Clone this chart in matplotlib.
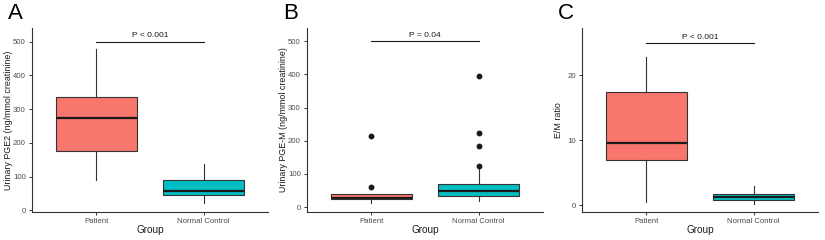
import matplotlib
matplotlib.use("Agg")
import matplotlib.pyplot as plt

plt.rcParams['font.family'] = ['Liberation Sans', 'DejaVu Sans']

groups = ["Patient", "Normal Control"]
colors = ["#F8766D", "#00BFC4"]

# Panel A: Urinary PGE2
a_q1 = [176, 46]
a_med = [272, 57]
a_q3 = [336, 90]
a_lo = [90, 21]
a_hi = [477, 137]
a_fliers = [[], []]

# Panel B: Urinary PGE-M
b_q1 = [24, 34]
b_med = [27, 49]
b_q3 = [39, 68]
b_lo = [11, 18]
b_hi = [39, 121]
b_fliers = [[61, 215], [125, 184, 222, 396]]

# Panel C: E/M ratio
c_q1 = [7.0, 0.9]
c_med = [9.6, 1.35]
c_q3 = [17.4, 1.8]
c_lo = [0.55, 0.3]
c_hi = [22.8, 3.0]
c_fliers = [[], []]

panels = [
    dict(letter="A", ylabel="Urinary PGE2 (ng/mmol creatinine)", q1=a_q1, med=a_med, q3=a_q3,
         lo=a_lo, hi=a_hi, fl=a_fliers, ylim=(-5, 540), yticks=[0, 100, 200, 300, 400, 500],
         pline=500, ptext="P < 0.001", left=32),
    dict(letter="B", ylabel="Urinary PGE-M (ng/mmol creatinine)", q1=b_q1, med=b_med, q3=b_q3,
         lo=b_lo, hi=b_hi, fl=b_fliers, ylim=(-15, 540), yticks=[0, 100, 200, 300, 400, 500],
         pline=500, ptext="P = 0.04", left=307),
    dict(letter="C", ylabel="E/M ratio", q1=c_q1, med=c_med, q3=c_q3,
         lo=c_lo, hi=c_hi, fl=c_fliers, ylim=(-1.0, 27.3), yticks=[0, 10, 20],
         pline=25, ptext="P < 0.001", left=582),
]

W, H = 825, 240
AW = 236
AH = 184
fig = plt.figure(figsize=(W / 100, H / 100), dpi=100)
fig.patch.set_facecolor("white")

for p in panels:
    left = p["left"]
    ax = fig.add_axes([left / W, (H - 212) / H, AW / W, AH / H])
    stats = []
    for i in range(2):
        stats.append(dict(med=p["med"][i], q1=p["q1"][i], q3=p["q3"][i],
                          whislo=p["lo"][i], whishi=p["hi"][i], fliers=p["fl"][i]))
    bp = ax.bxp(stats, positions=[1, 2], widths=0.75, patch_artist=True, showcaps=False,
                boxprops=dict(edgecolor="#333333", linewidth=0.8),
                whiskerprops=dict(color="#333333", linewidth=0.8),
                medianprops=dict(color="#1a1a1a", linewidth=1.6),
                flierprops=dict(marker="o", markersize=3.2, markerfacecolor="#1a1a1a",
                                markeredgecolor="#1a1a1a"))
    for patch, c in zip(bp["boxes"], colors):
        patch.set_facecolor(c)
    ax.set_xlim(0.4, 2.6)
    ax.set_ylim(*p["ylim"])
    ax.set_yticks(p["yticks"])
    ax.set_xticks([1, 2])
    ax.set_xticklabels(groups)
    ax.tick_params(axis="both", labelsize=5.6, colors="#333333", labelcolor="#4D4D4D",
                   length=2.5, width=0.7, pad=2)
    for s in ["top", "right"]:
        ax.spines[s].set_visible(False)
    for s in ["left", "bottom"]:
        ax.spines[s].set_color("#333333")
        ax.spines[s].set_linewidth(0.8)
    ax.set_xlabel("Group", fontsize=7.2, color="#1a1a1a")
    ax.xaxis.set_label_coords(0.5, -13.0 / AH)
    ax.set_ylabel(p["ylabel"], fontsize=6.4, color="#1a1a1a")
    ax.yaxis.set_label_coords(-19.0 / AW, 0.5)
    ax.plot([1, 2], [p["pline"], p["pline"]], color="#1a1a1a", linewidth=0.8)
    ax.annotate(p["ptext"], xy=(1.5, p["pline"]), xytext=(0, 1.5), textcoords="offset points",
                ha="center", va="bottom", fontsize=6, color="#1a1a1a")
    fig.text((left - 24) / W, (H - 3) / H, p["letter"], fontsize=16, ha="left", va="top",
             color="black")

fig.savefig("out.png", dpi=100, facecolor="white")
